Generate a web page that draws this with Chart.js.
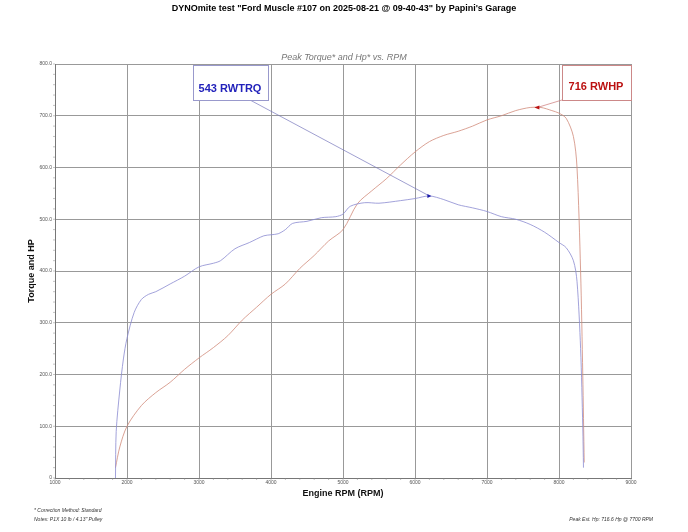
<!DOCTYPE html>
<html>
<head>
<meta charset="utf-8">
<script src="https://cdn.jsdelivr.net/npm/chart.js@4"></script>
<style>
  body { margin: 0; background: #fff; }
  #wrap { width: 688px; height: 532px; }
</style>
</head>
<body>
<div id="wrap"><canvas id="dyno"></canvas></div>
<script>
// dyno pull, rpm vs torque / hp
const torqueRpm = [1840, 1850, 1900, 1950, 2000, 2100, 2200, 2300, 2400, 2600, 2800, 3000, 3200, 3300, 3500, 3700, 3900, 4000, 4100, 4200, 4300, 4500, 4700, 4900, 5000, 5100, 5300, 5500, 5800, 6000, 6200, 6400, 6600, 6800, 7000, 7200, 7400, 7600, 7800, 8000, 8100, 8200, 8250, 8300, 8330, 8340];
const torqueVals = [0, 90, 170, 230, 270, 320, 345, 355, 360, 375, 390, 408, 415, 420, 443, 455, 468, 470, 472, 480, 492, 496, 503, 505, 510, 525, 532, 531, 536, 540, 545, 538, 528, 522, 515, 505, 500, 490, 475, 455, 445, 420, 380, 250, 100, 20];
const hpRpm = [1840, 1900, 2000, 2200, 2400, 2600, 2800, 3000, 3200, 3400, 3600, 3800, 4000, 4200, 4400, 4600, 4800, 5000, 5200, 5400, 5600, 5800, 6000, 6200, 6400, 6600, 6800, 7000, 7200, 7400, 7600, 7750, 7900, 8000, 8100, 8200, 8250, 8300, 8330, 8350];
const hpVals = [20, 60, 100, 140, 165, 185, 210, 232, 252, 275, 305, 330, 355, 375, 405, 430, 458, 480, 530, 555, 578, 605, 630, 650, 662, 670, 680, 692, 700, 710, 716, 716, 710, 705, 695, 660, 600, 400, 200, 30];
const peakTorque = { rpm: 6200, val: 545, label: "543 RWTRQ" };
const peakHp = { rpm: 7700, val: 716, label: "716 RWHP" };

function pts(xs, ys) { return xs.map((x, i) => ({ x: x, y: ys[i] })); }

const extras = {
  id: 'extras',
  afterDraw(chart) {
    const c = chart.ctx, a = chart.chartArea, sx = chart.scales.x, sy = chart.scales.y;
    c.save();
    c.fillStyle = '#000';
    c.textAlign = 'center';
    c.font = 'bold 9px "Liberation Sans", Arial';
    c.fillText('DYNOmite test "Ford Muscle #107 on 2025-08-21 @ 09-40-43" by Papini\'s Garage', 344, 11);
    c.fillStyle = '#777';
    c.font = 'italic 9px "Liberation Sans", Arial';
    c.fillText('Peak Torque* and Hp* vs. RPM', 344, 60);
    c.fillStyle = '#333';
    c.font = 'italic 5px "Liberation Sans", Arial';
    c.textAlign = 'left';
    c.fillText('* Correction Method: Standard', 34, 512);
    c.fillText('Notes: P1X 10 lb / 4.13" Pulley', 34, 521);
    c.textAlign = 'right';
    c.fillText('Peak Est. Hp: 716.6 Hp @ 7700 RPM', 653, 521);

    // minor ticks
    c.strokeStyle = '#888';
    c.lineWidth = 0.5;
    for (let r = 1000; r <= 9000; r += 200) {
      const x = sx.getPixelForValue(r);
      c.beginPath(); c.moveTo(x, a.bottom); c.lineTo(x, a.bottom + 2); c.stroke();
    }
    for (let v = 0; v <= 800; v += 20) {
      const y = sy.getPixelForValue(v);
      c.beginPath(); c.moveTo(a.left - 2, y); c.lineTo(a.left, y); c.stroke();
    }

    // callouts
    const tx = sx.getPixelForValue(peakTorque.rpm), ty = sy.getPixelForValue(peakTorque.val);
    const hx = sx.getPixelForValue(peakHp.rpm), hy = sy.getPixelForValue(peakHp.val);
    c.lineWidth = 0.7;
    c.strokeStyle = '#7777bb';
    c.beginPath(); c.moveTo(250, 100); c.lineTo(tx, ty); c.stroke();
    c.strokeStyle = '#cc7777';
    c.beginPath(); c.moveTo(562, 100); c.lineTo(hx, hy); c.stroke();
    c.fillStyle = '#1a1aaa';
    c.beginPath(); c.moveTo(tx + 2, ty); c.lineTo(tx - 2, ty - 2); c.lineTo(tx - 2, ty + 2); c.fill();
    c.fillStyle = '#bb1111';
    c.beginPath(); c.moveTo(hx - 3, hy); c.lineTo(hx + 2, hy - 2); c.lineTo(hx + 2, hy + 2); c.fill();

    c.fillStyle = '#fff';
    c.fillRect(193, 65, 75, 35);
    c.strokeStyle = '#9999cc';
    c.lineWidth = 1;
    c.strokeRect(193.5, 65.5, 75, 35);
    c.fillRect(562, 65, 69, 35);
    c.strokeStyle = '#cc8888';
    c.strokeRect(562.5, 65.5, 69, 35);
    c.textAlign = 'center';
    c.font = 'bold 11px "Liberation Sans", Arial';
    c.fillStyle = '#2222bb';
    c.fillText(peakTorque.label, 230, 92);
    c.fillStyle = '#bb1111';
    c.fillText(peakHp.label, 596, 90);
    c.restore();
  }
};

new Chart('dyno', {
  type: 'scatter',
  data: {
    datasets: [
      { label: 'Torque', data: pts(torqueRpm, torqueVals), showLine: true, borderColor: '#8a8ad0', borderWidth: 0.8, pointRadius: 0, tension: 0.3 },
      { label: 'HP', data: pts(hpRpm, hpVals), showLine: true, borderColor: '#d08a7a', borderWidth: 0.8, pointRadius: 0, tension: 0.3 }
    ]
  },
  options: {
    responsive: true,
    maintainAspectRatio: false,
    animation: false,
    layout: { padding: { top: 64, right: 57, bottom: 32, left: 26 } },
    plugins: { legend: { display: false }, tooltip: { enabled: false } },
    scales: {
      x: {
        min: 1000, max: 9000,
        afterFit(s) { s.height = 22; },
        ticks: { stepSize: 1000, maxRotation: 0, font: { size: 5 }, color: '#555', padding: 2, callback: v => String(v) },
        grid: { color: '#999', lineWidth: 1, drawTicks: false },
        border: { color: '#777' },
        title: { display: true, text: 'Engine RPM (RPM)', font: { size: 9, weight: 'bold' }, color: '#111', padding: 1 }
      },
      y: {
        min: 0, max: 800,
        afterFit(s) { s.width = 29; },
        ticks: { stepSize: 100, font: { size: 5 }, color: '#555', padding: 3, callback: v => v === 0 ? '0' : v.toFixed(1) },
        grid: { color: '#999', lineWidth: 1, drawTicks: false },
        border: { color: '#777' },
        title: { display: true, text: 'Torque and HP', font: { size: 9, weight: 'bold' }, color: '#111', padding: 0 }
      }
    }
  },
  plugins: [extras]
});
</script>
</body>
</html>
